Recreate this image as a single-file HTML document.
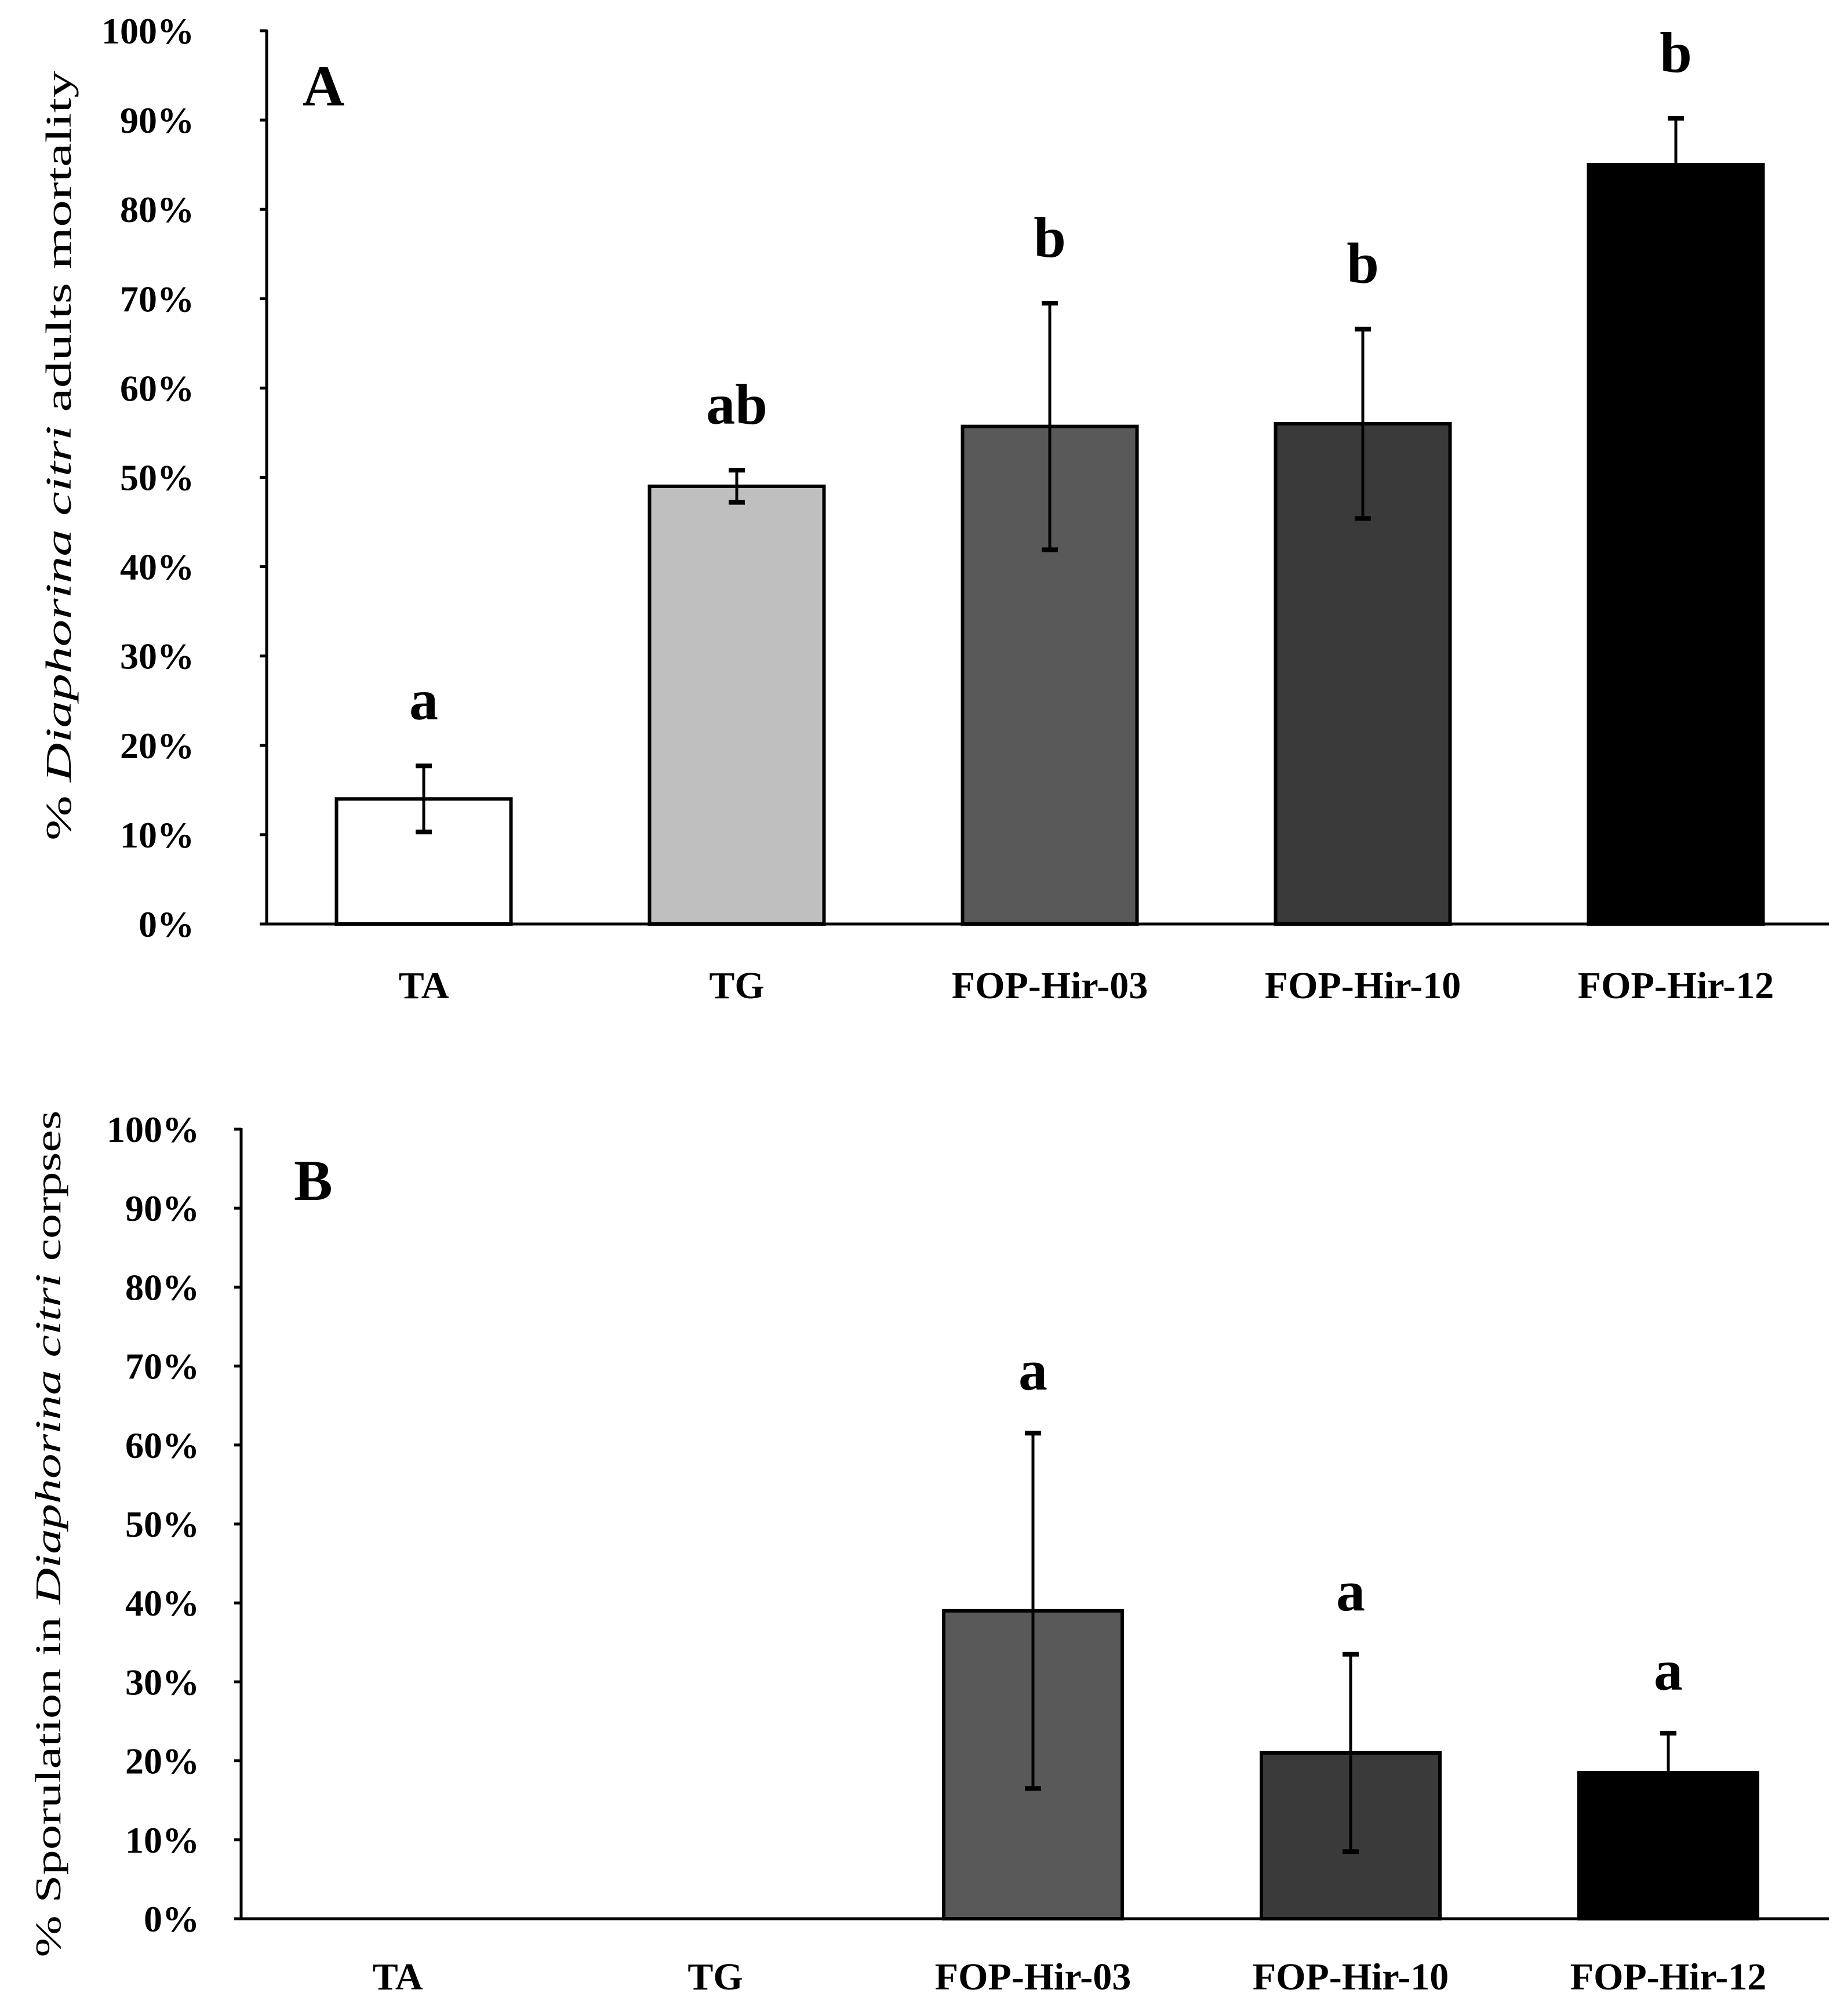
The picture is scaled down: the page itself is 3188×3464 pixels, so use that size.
<!DOCTYPE html>
<html><head><meta charset="utf-8"><style>
body{margin:0;background:#fff}
svg{display:block;font-family:"Liberation Serif",serif}
</style></head><body>
<svg id="fig" width="3188" height="3464" viewBox="0 0 3188 3464" xmlns="http://www.w3.org/2000/svg">
<rect width="3188" height="3464" fill="#fff"/>
</svg>
<script>
const categories = ["TA","TG","FOP-Hir-03","FOP-Hir-10","FOP-Hir-12"];
const colors = ["#ffffff","#bfbfbf","#595959","#3a3a3a","#000000"];
const mortality = [14, 49, 55.7, 56, 85];
const mortalityErr = [3.7, 1.8, 13.8, 10.6, 5.2];
const mortalityLetters = ["a","ab","b","b","b"];
const sporulation = [0, 0, 39, 21, 18.5];
const sporulationErr = [0, 0, 22.5, 12.5, 5];
const sporulationLetters = ["","","a","a","a"];
const yTicks = [0,10,20,30,40,50,60,70,80,90,100];

const NS="http://www.w3.org/2000/svg";
const svg=document.getElementById('fig');
function el(tag,attrs,parent,text){const e=document.createElementNS(NS,tag);for(const k in attrs)e.setAttribute(k,attrs[k]);if(text!==undefined)e.textContent=text;(parent||svg).appendChild(e);return e;}

function panel(cfg){
  const g=el('g',{});
  
  
  const y=v=>cfg.y0-(v/100)*(cfg.y0-cfg.y100);
  const x=i=>cfg.x0c+i*cfg.step;
  cfg.vals.forEach((v,i)=>{
    if(v<=0)return;
    const r=el('rect',{x:x(i)-cfg.bw/2,y:y(v),width:cfg.bw,height:y(0)-y(v),fill:colors[i],stroke:'#000','stroke-width':6},g);
    
    
  });
  cfg.vals.forEach((v,i)=>{
    const e=cfg.errs[i]; if(!e)return;
    const eg=el('g',{stroke:'#000','stroke-width':5},g);
    
    
    el('line',{x1:x(i),x2:x(i),y1:y(v-e),y2:y(v+e)},eg);
    el('line',{x1:x(i)-14,x2:x(i)+14,y1:y(v+e),y2:y(v+e),'stroke-width':8},eg);
    el('line',{x1:x(i)-14,x2:x(i)+14,y1:y(v-e),y2:y(v-e),'stroke-width':8},eg);
  });
  cfg.vals.forEach((v,i)=>{
    const L=cfg.letters[i]; if(!L)return;
    const t=el('text',{x:x(i),y:y(v+cfg.errs[i])-cfg.letterGap,'text-anchor':'middle','font-size':100,'font-weight':'bold'},g,L);
    
    
  });
  const ax=el('g',{stroke:'#000','stroke-width':5},g);
  
  
  el('line',{x1:cfg.ax,x2:cfg.ax,y1:y(100)-2,y2:y(0)},ax);
  el('line',{x1:cfg.ax,x2:3155,y1:y(0),y2:y(0)},ax);
  yTicks.forEach(t=>{
    el('line',{x1:cfg.ax-12,x2:cfg.ax,y1:y(t),y2:y(t)},ax);
    const tl=el('text',{x:cfg.ax-cfg.tgap,y:y(t)+22,'text-anchor':'end','font-size':64,'font-weight':'bold'},g,t+'%');
    
    
  });
  categories.forEach((c,i)=>{
    const tl=el('text',{x:x(i),y:cfg.catY,'text-anchor':'middle','font-size':66,'font-weight':'bold'},g,c);
    
    
  });
  const pl=el('text',{x:cfg.px,y:cfg.py,'font-size':100,'font-weight':'bold'},g,cfg.label);
  
  
  const yt=el('text',{transform:`translate(${cfg.tx},${cfg.ty}) rotate(-90)`,'text-anchor':'middle','font-size':62,textLength:cfg.tlen,lengthAdjust:'spacingAndGlyphs'},g);
  
  
  el('tspan',{},yt,cfg.t1);
  el('tspan',{'font-style':'italic'},yt,'Diaphorina citri');
  el('tspan',{},yt,cfg.t2);
}

panel({name:'chart-a-mortality',vals:mortality,errs:mortalityErr,letters:mortalityLetters,
  y0:1594,y100:53,ax:460,x0c:731,step:540,bw:301,letterGap:80,catY:1722,tgap:125,
  px:522,py:182,label:'A',tx:122,ty:786,tlen:1328,t1:'% ',t2:' adults mortality'});
panel({name:'chart-b-sporulation',vals:sporulation,errs:sporulationErr,letters:sporulationLetters,
  y0:3310,y100:1948,ax:416,x0c:686,step:548,bw:308,letterGap:75,catY:3432,tgap:72,
  px:507,py:2070,label:'B',tx:104,ty:2646,tlen:1461,t1:'% Sporulation  in ',t2:'  corpses'});
</script>
</body></html>
